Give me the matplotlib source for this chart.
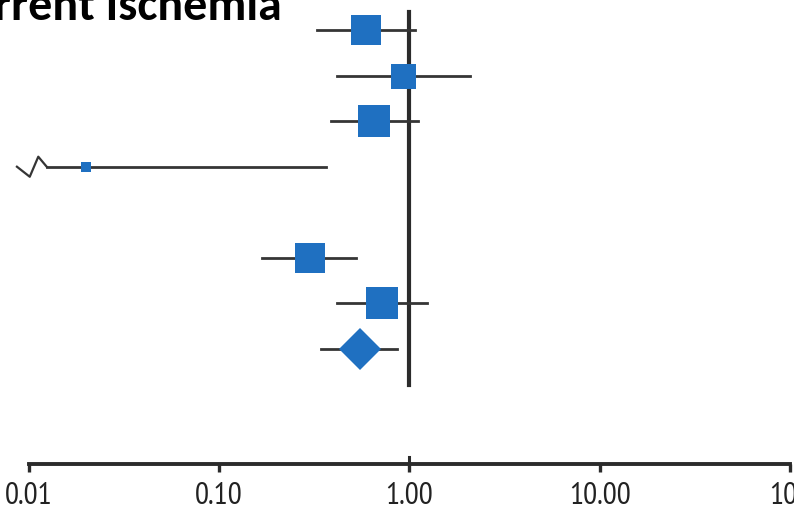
import numpy as np
import matplotlib.pyplot as plt

# rows top to bottom (row 4 is empty)
rows = [0, 1, 2, 3, 5, 6]
est = [0.59, 0.93, 0.65, 0.02, 0.30, 0.72]
lo = [0.326, 0.416, 0.387, 0.0124, 0.168, 0.416]  # row 4 lower limit is off scale (broken line)
hi = [1.07, 2.08, 1.11, 0.364, 0.524, 1.24]
msize = [21.6, 18.0, 22.4, 7.5, 21.6, 22.8]

pool_row = 7
pool_est = 0.55
pool_lo = 0.343
pool_hi = 0.86

ticks = [0.01, 0.1, 1, 10, 100]
tick_labels = ["0.01", "0.10", "1.00", "10.00", "100"]

blue = "#1f70c1"
dark = "#2b2b2b"

fig = plt.figure(figsize=(7.94, 5.10), dpi=100)
ax = fig.add_axes([0, 0, 1, 1])
ax.set_xscale("log")
ax.set_xlim(10 ** -2.152, 10 ** 2.021)
ax.set_ylim(10.51, -0.68)

axis_y = 9.52

# reference line at 1
ax.plot([1, 1], [-0.4, 7.8], color=dark, lw=3.0, zorder=1)
ax.plot([1, 1], [axis_y, axis_y - 0.16], color=dark, lw=2.2, zorder=1)

for r, e, l, h, m in zip(rows, est, lo, hi, msize):
    ax.plot([l, h], [r, r], color="#353535", lw=2.0, zorder=2)
    ax.plot(e, r, marker="s", ms=m, color=blue, mew=0, zorder=3)

# broken-line squiggle for off-scale lower limit on row 3
zx = [0.00865, 0.0101, 0.0112, 0.0124]
zy = [3.0, 3.22, 2.78, 3.0]
ax.plot(zx, zy, color="#353535", lw=1.6, zorder=2)

# pooled estimate
ax.plot([pool_lo, pool_hi], [pool_row, pool_row], color="#353535", lw=2.0, zorder=2)
ax.plot(pool_est, pool_row, marker="D", ms=21.5, color=blue, mew=0, zorder=3)

# axis
for s in ["top", "right", "left"]:
    ax.spines[s].set_visible(False)
ax.spines["bottom"].set_position(("data", axis_y))
ax.spines["bottom"].set_bounds(0.01, 100)
ax.spines["bottom"].set_linewidth(2.8)
ax.spines["bottom"].set_color(dark)
ax.set_yticks([])
ax.set_xticks(ticks)
ax.set_xticklabels(tick_labels, family="PT Sans Narrow", fontsize=22.5, color="#222222")
ax.xaxis.set_minor_locator(plt.NullLocator())
ax.tick_params(axis="x", length=6, width=2.4, color=dark, pad=6)

fig.text(282 / 794, 1 - 20 / 510, "Recurrent Ischemia", ha="right", va="baseline",
         fontsize=34.5, fontweight="bold", family="Carlito")

fig.savefig("out.png", dpi=100)
